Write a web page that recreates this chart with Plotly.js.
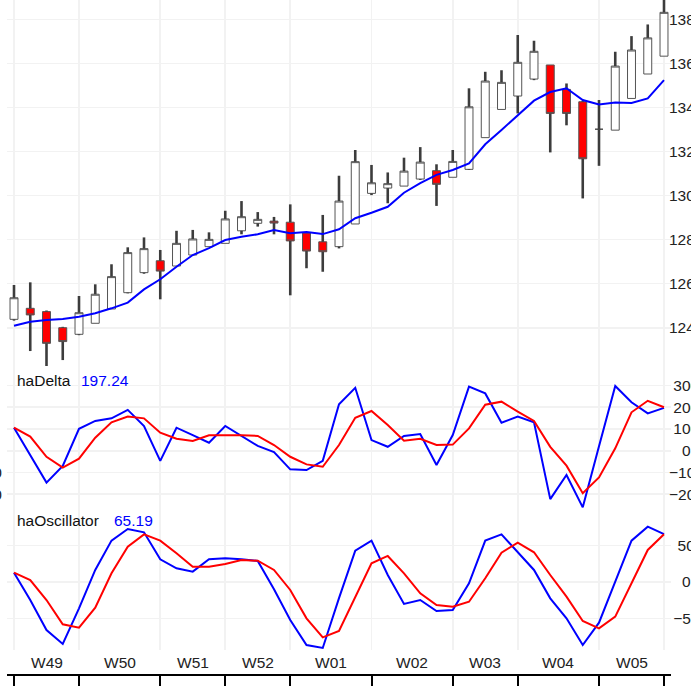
<!DOCTYPE html>
<html><head><meta charset="utf-8">
<script src="https://cdn.plot.ly/plotly-3.0.1.min.js"></script>
<style>html,body{margin:0;padding:0;background:#fff}#chart{width:691px;height:686px}</style>
</head><body><div id="chart"></div>
<script>
// ---------- data ----------
const openP  = [1243.8,1248.8,1247.3,1240.0,1237.0,1242.0,1248.5,1255.9,1265.0,1270.4,1268.0,1273.0,1276.8,1278.3,1284.0,1287.4,1288.4,1287.9,1283.0,1279.0,1276.8,1287.1,1301.0,1303.4,1304.3,1307.5,1311.3,1308.3,1311.9,1326.3,1339.1,1345.2,1352.9,1359.3,1348.2,1342.6,1330.1,1329.7,1344.1,1355.2,1363.3];
const highP  = [1259.4,1260.6,1247.8,1240.4,1254.4,1259.7,1268.8,1276.5,1281.0,1275.3,1284.0,1284.4,1283.3,1293.1,1297.5,1292.5,1290.3,1296.0,1283.3,1291.2,1309.0,1320.7,1313.9,1310.5,1317.2,1322.0,1314.2,1320.7,1348.7,1356.2,1356.9,1372.9,1370.3,1359.6,1350.9,1343.0,1343.4,1365.3,1372.4,1377.7,1392.0];
const lowP   = [1243.2,1229.4,1222.6,1225.3,1236.6,1241.7,1248.2,1255.6,1264.5,1252.9,1267.7,1272.7,1276.5,1278.1,1282.4,1285.9,1282.4,1254.7,1267.0,1265.4,1276.0,1286.9,1300.2,1296.5,1304.0,1307.1,1295.3,1308.0,1311.6,1326.0,1338.8,1337.3,1352.4,1319.6,1331.9,1298.7,1313.5,1329.6,1343.9,1354.9,1363.0];
const closeP = [1253.6,1245.8,1232.9,1233.7,1246.8,1255.2,1263.2,1274.1,1275.9,1265.7,1278.3,1280.3,1280.1,1289.4,1290.4,1289.2,1287.5,1279.4,1274.8,1274.5,1297.5,1315.4,1305.8,1305.4,1311.1,1315.2,1305.1,1315.5,1340.3,1352.0,1351.4,1360.5,1365.5,1337.3,1337.3,1316.7,1330.1,1358.8,1366.1,1371.6,1383.2];
const maLine = [1240.9,1242.7,1243.5,1244.0,1245.0,1246.6,1248.8,1251.4,1257.4,1262.0,1267.7,1273.0,1276.1,1279.8,1281.3,1282.4,1284.4,1282.9,1283.5,1282.5,1284.7,1289.7,1292.2,1294.9,1301.3,1305.6,1309.4,1311.6,1314.6,1323.3,1329.8,1336.6,1343.1,1347.0,1348.7,1343.4,1341.4,1342.3,1342.0,1344.1,1352.4];
const haDelta       = [106,-21,-147,-70,101,137,149,188,114,-47,106,72,37,114,68,22,-6,-86,-89,-47,214,290,49,18,68,77,-66,72,295,264,129,157,131,-223,-112,-261,20,298,223,172,197.24];
const haDeltaSignal = [106,65,-28,-78,-37,60,131,157,149,83,55,45,71,72,71,68,26,-28,-63,-74,26,152,183,118,46,55,26,28,103,212,226,180,137,18,-69,-196,-123,11,177,230,200];
const haOsc         = [12.7,-24.6,-65.5,-84.6,-35.9,16.4,56.4,72.3,67.8,31,18.7,14.1,31,32.3,31,28.6,-10,-51.8,-86,-90,-22,42.7,56.4,9.5,-30,-24.6,-39.6,-38.2,-1.8,56.4,65,41.3,16.4,-22.3,-49.6,-86,-55.5,0.5,56.4,75.5,65.19];
const haOscSignal   = [12.7,2.7,-24.6,-57.7,-62.3,-35,11.8,48.2,65,56.4,39.1,20.9,20.9,24.6,30,29,16.4,-10.9,-49.6,-75.5,-66.8,-20,25.5,35.5,11.8,-15.5,-31.4,-33.7,-26.9,5,40,53.6,40.5,9.5,-20,-53.2,-63.2,-47.3,-1.8,43.7,65.19];
const weekLabels = ['W49','W50','W51','W52','W01','W02','W03','W04','W05'];
const weekBounds = [0,4,9,13,17,22,27,31,36,40];
const priceTicks = [1240,1260,1280,1300,1320,1340,1360,1380];
const deltaTicks = [-200,-100,0,100,200,300];
const oscTicks = [-50,0,50];

// ---------- derived ----------
const n = openP.length;
const xs = openP.map((_, i) => i);
const bodyTop = openP.map((o, i) => Math.max(o, closeP[i]));
const bodyBot = openP.map((o, i) => Math.min(o, closeP[i]));
const wx = [], wy = [];
for (let i = 0; i < n; i++) {
  if (highP[i] - bodyTop[i] > 0.3) { wx.push(i, i, null); wy.push(highP[i], bodyTop[i], null); }
  if (bodyBot[i] - lowP[i] > 0.3) { wx.push(i, i, null); wy.push(bodyBot[i], lowP[i], null); }
}
const weekCenters = weekLabels.map((_, i) => (weekBounds[i] + weekBounds[i + 1]) / 2);

const FIG = '\u2007', PUNC = '\u2008';
function fmt(v) { return (v < 0 ? '\u2212' : '') + Math.abs(v); }
function centerPad(s, width, side) {
  const d = width - s.length;
  const pad = FIG.repeat(Math.floor(d / 2)) + (d % 2 ? PUNC : '');
  return side === 'left' ? pad + s : s + pad;
}
const labelW = 4;

// ---------- layout geometry ----------
const W = 691, H = 686, ML = 7, MR = 20;
const PW = W - ML - MR;
const fx = px => (px - ML) / PW;
const fy = py => 1 - py / H;
const xr = [-0.431, 40.431];

const font = {family: 'Liberation Sans, Arial, sans-serif', size: 15.5, color: '#222'};
const grid = '#f2f2f2';

function xGrid(anchor) {
  return {anchor: anchor, range: xr, tickvals: weekBounds, showticklabels: false, ticks: '',
          showgrid: true, gridcolor: grid, gridwidth: 1.6, zeroline: false, showline: false, fixedrange: true};
}
function yAx(dom, range, ticks, anchor) {
  return {domain: dom, range: range, anchor: anchor, side: 'right', tickvals: ticks,
          ticktext: ticks.map(v => centerPad(fmt(v), labelW, 'left')),
          showgrid: true, gridcolor: grid, gridwidth: 1.6, zeroline: false, ticks: '',
          tickfont: font, fixedrange: true, ticklabelstandoff: -3};
}
const deltaRange = [-273.3, 381.1];

const traces = [
  {type: 'scatter', mode: 'lines', x: wx, y: wy, xaxis: 'x', yaxis: 'y', connectgaps: false,
   line: {color: '#3c3c3c', width: 2.6}, hoverinfo: 'skip', showlegend: false},
  {type: 'candlestick', x: xs, open: openP, high: bodyTop, low: bodyBot, close: closeP,
   xaxis: 'x', yaxis: 'y', whiskerwidth: 0,
   increasing: {line: {color: '#555555', width: 1}, fillcolor: '#ffffff'},
   decreasing: {line: {color: '#555555', width: 1}, fillcolor: '#ff0000'}, showlegend: false},
  {type: 'scatter', mode: 'lines', x: xs, y: maLine, xaxis: 'x', yaxis: 'y',
   line: {color: '#0000ff', width: 2}, showlegend: false},
  {type: 'scatter', mode: 'lines', x: xs, y: haDelta, xaxis: 'x2', yaxis: 'y2',
   line: {color: '#0000ff', width: 2}, showlegend: false},
  {type: 'scatter', mode: 'lines', x: xs, y: haDeltaSignal, xaxis: 'x2', yaxis: 'y4',
   line: {color: '#ff0000', width: 2}, showlegend: false},
  {type: 'scatter', mode: 'lines', x: xs, y: haOsc, xaxis: 'x3', yaxis: 'y3',
   line: {color: '#0000ff', width: 2}, showlegend: false},
  {type: 'scatter', mode: 'lines', x: xs, y: haOscSignal, xaxis: 'x5', yaxis: 'y3',
   line: {color: '#ff0000', width: 2}, showlegend: false}
];

const mainDom = [fy(368), 1], deltaDom = [fy(510), fy(368)], oscDom = [fy(650), fy(510)];

const annotations = [
  {xref: 'paper', yref: 'paper', x: fx(15), y: fy(380), xanchor: 'left', yanchor: 'middle',
   text: 'haDelta', showarrow: false, font: {family: font.family, size: 15.5, color: '#111'}},
  {xref: 'paper', yref: 'paper', x: fx(79), y: fy(380), xanchor: 'left', yanchor: 'middle',
   text: haDelta[n - 1].toFixed(2), showarrow: false, font: {family: font.family, size: 15.5, color: '#0000ff'}},
  {xref: 'paper', yref: 'paper', x: fx(15), y: fy(520), xanchor: 'left', yanchor: 'middle',
   text: 'haOscillator', showarrow: false, font: {family: font.family, size: 15.5, color: '#111'}},
  {xref: 'paper', yref: 'paper', x: fx(112), y: fy(520), xanchor: 'left', yanchor: 'middle',
   text: haOsc[n - 1].toFixed(2), showarrow: false, font: {family: font.family, size: 15.5, color: '#0000ff'}}
];
weekLabels.forEach((w, i) => annotations.push({
  xref: 'x3', yref: 'paper', x: weekCenters[i], y: fy(662), xanchor: 'center', yanchor: 'middle',
  text: w, showarrow: false, font: font
}));

const layout = {
  width: W, height: H, margin: {l: ML, r: MR, t: 0, b: 0},
  paper_bgcolor: '#ffffff', plot_bgcolor: '#ffffff', font: font, showlegend: false,
  xaxis: Object.assign(xGrid('y'), {rangeslider: {visible: false}}),
  xaxis2: xGrid('y2'),
  xaxis3: xGrid('y3'),
  xaxis5: {overlaying: 'x3', anchor: 'free', position: fy(675), side: 'bottom', range: xr,
           tickvals: weekBounds, showticklabels: false, showgrid: false,
           zeroline: false, showline: true, linecolor: '#000', linewidth: 2, ticks: 'outside', ticklen: 16,
           tickwidth: 2, tickcolor: '#000', fixedrange: true},
  yaxis: yAx(mainDom, [1221.7, 1388.8], priceTicks, 'x'),
  yaxis2: yAx(deltaDom, deltaRange, deltaTicks, 'x2'),
  yaxis3: yAx(oscDom, [-92.8, 98.2], oscTicks, 'x3'),
  yaxis4: {overlaying: 'y2', anchor: 'x2', side: 'left', range: deltaRange, tickvals: deltaTicks,
           ticktext: deltaTicks.map(v => centerPad(fmt(v), labelW, 'right')),
           showgrid: false, zeroline: false, ticks: '', tickfont: font, fixedrange: true,
           ticklabelstandoff: 4},
  annotations: annotations
};

Plotly.newPlot('chart', traces, layout, {displayModeBar: false, staticPlot: true});
</script></body></html>
